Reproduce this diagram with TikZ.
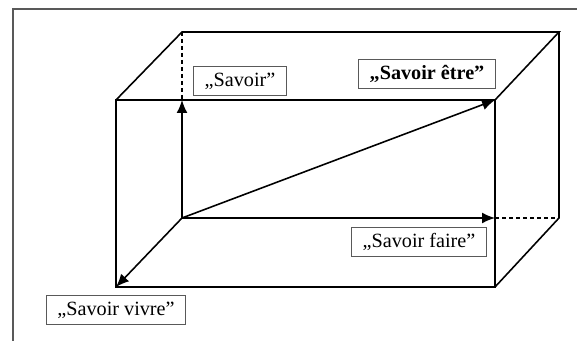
\documentclass[tikz,border=0pt]{standalone}
\usepackage{fontspec}
\setmainfont{Liberation Serif}
\usetikzlibrary{arrows.meta}

\begin{document}
\begin{tikzpicture}[line width=0.9pt,
		labelbox/.style={draw=gray!70!black, line width=0.5pt, inner xsep=0.22cm, minimum height=0.5cm, font=\fontsize{11.5}{13}\selectfont},
		arr/.style={-{Latex[length=0.26cm,width=0.22cm]}},
		hidden/.style={dash pattern=on 0.08cm off 0.06cm}]
		\useasboundingbox (0,0) rectangle (11.54,-6.82);
		\draw[gray!70!black, line width=0.7pt] (0.26,-6.82) -- (0.26,-0.18) -- (11.54,-0.18);
		% corners of the box
		\coordinate (o) at (3.64,-4.36);
		\coordinate (fbl) at (2.32,-5.74);
		\coordinate (fbr) at (9.90,-5.74);
		\coordinate (ftl) at (2.32,-2.00);
		\coordinate (ftr) at (9.90,-2.00);
		\coordinate (fto) at (3.64,-2.00);
		\coordinate (fro) at (9.90,-4.36);
		\coordinate (btl) at (3.64,-0.64);
		\coordinate (btr) at (11.18,-0.64);
		\coordinate (bbr) at (11.18,-4.36);
		\draw (ftl) rectangle (fbr);
		\draw (ftl) -- (btl) -- (btr) -- (ftr);
		\draw (btr) -- (bbr) -- (fbr);
		\draw[hidden] (btl) -- (fto);
		\draw[hidden] (fro) -- (bbr);
		\draw[arr] (o) -- (fto);
		\draw[arr] (o) -- (fro);
		\draw[arr] (o) -- (ftr);
		\draw[arr] (o) -- (fbl);
		\draw (4.80,-1.62) node[labelbox] (savoir) {„Savoir”};
		\draw (8.54,-1.48) node[labelbox] (etre) {\bfseries „Savoir être”};
		\draw (8.38,-4.84) node[labelbox] (faire) {„Savoir faire”};
		\draw (2.32,-6.20) node[labelbox] (vivre) {„Savoir vivre”};
	\end{tikzpicture}
\end{document}
